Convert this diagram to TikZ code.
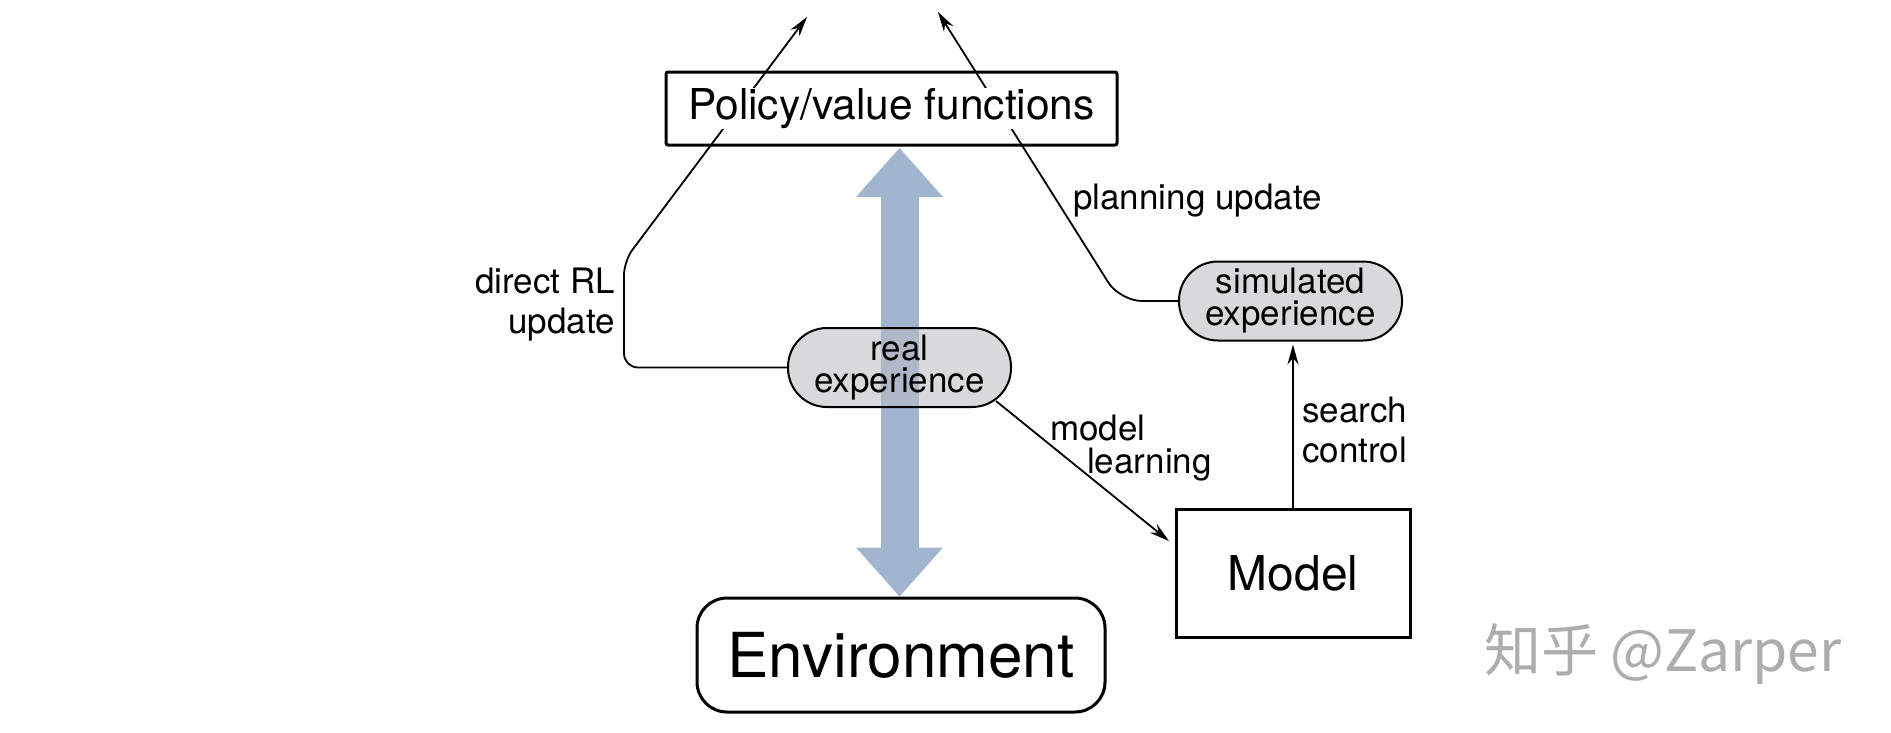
\documentclass[tikz,border=0pt]{standalone}
\usepackage{fontspec}
\setmainfont{TeX Gyre Heros}
\newfontfamily\cjk{Noto Sans CJK SC}
\usetikzlibrary{arrows.meta, backgrounds}
\definecolor{flowblue}{RGB}{161,181,207}
\definecolor{pillgray}{RGB}{186,187,191}
\setlength{\fboxsep}{0pt}
\tikzstyle{valuebox} = [rectangle, draw=black, line width=3pt, rounded corners=2pt, minimum width=451pt, minimum height=73pt, inner sep=0pt, font=\fontsize{42.5}{46}\selectfont]
\tikzstyle{envbox} = [rectangle, draw=black, line width=3pt, rounded corners=30pt, minimum width=408pt, minimum height=114pt, inner sep=0pt, font=\fontsize{62}{70}\selectfont]
\tikzstyle{modelbox} = [rectangle, draw=black, line width=3pt, minimum width=234pt, minimum height=128pt, inner sep=0pt, font=\fontsize{48}{54}\selectfont]
\tikzstyle{experience} = [rectangle, rounded corners=39pt, draw=black, line width=2pt, fill=pillgray, fill opacity=0.56, text opacity=1, minimum width=223pt, minimum height=79pt, inner sep=0pt, align=center, font=\fontsize{35}{32}\selectfont]
\tikzstyle{edgetext} = [inner sep=0pt, font=\fontsize{35}{40}\selectfont]
\tikzstyle{arrow} = [line width=1.8pt, -{Stealth[length=20pt,width=11pt]}]
\tikzstyle{flow} = [line width=38pt, color=flowblue, {Triangle[length=49pt,width=87pt,line width=0pt]}-{Triangle[length=49pt,width=87pt,line width=0pt]}]

\begin{document}
\begin{tikzpicture}[x=1pt, y=-1pt, node distance=100pt]
\useasboundingbox (0,0) rectangle (1891,732);

% Boxes and experience
\node (P) [valuebox] at (891.5,108.5) {\colorbox{white}{Policy/value functions}};
\node (real) [experience, below of=P, yshift=-159pt, xshift=8pt] {real\\experience};
\node (env) [envbox, below of=real, yshift=-187.5pt, xshift=1.5pt] {Environment};
\node (sim) [experience, right of=real, xshift=291pt, yshift=66.5pt] {simulated\\experience};
\node (model) [modelbox, below of=sim, yshift=-172pt, xshift=2.5pt] {Model};

% Labels
\node (dl) [edgetext, align=right, anchor=east] at (615,305) {direct RL\\update};
\node (pu) [edgetext, anchor=base west] at (1073,209) {planning update};
\node (ml) [edgetext, align=left, anchor=west] at (1050,448) {model\\[-7pt]\hspace*{37pt}learning};
\node (sc) [edgetext, align=left, anchor=west] at (1302,430) {search\\control};

\node (mark) [text=black!32, font=\cjk\fontsize{57}{64}\selectfont, anchor=west, inner sep=0pt] at (1484,654) {知乎 @Zarper};

% Free ends of the updates
\coordinate (tipL) at (807,17);
\coordinate (tipR) at (938,12);
\coordinate (bendL) at (624,261);
\coordinate (bendR) at (1120,301);

% Connecting arrows
\begin{pgfonlayer}{background}
\draw [flow, shorten <=1.5pt] (P.south -| real.center) -- (env.north -| real.center);
\draw [arrow, rounded corners=14pt] (real.west) -| (bendL) -- (tipL);
\draw [arrow, rounded corners=22pt] (sim.west) -- (bendR) -- (tipR);
\end{pgfonlayer}

\draw [arrow, shorten >=7pt] ([shift={(-16pt,7pt)}]real.south east) -- ([yshift=-38pt]model.north west);
\draw [arrow, shorten >=3pt] (model.north) -- (model.north |- sim.south);

\end{tikzpicture}
\end{document}
